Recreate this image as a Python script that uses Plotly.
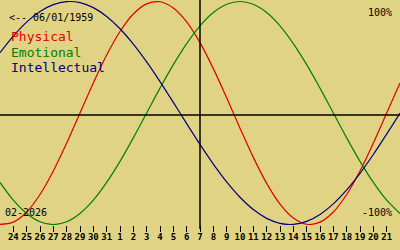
import plotly.graph_objects as go
import pandas as pd

# Days shown: Jan 23 2026 .. Feb 22 2026
dates = pd.date_range("2026-01-23", "2026-02-22", freq="D")

physical = [-99.8, -97.9, -88.8, -73.1, -52.0, -27.0, 0.0, 27.0, 52.0, 73.1, 88.8, 97.9,
            99.8, 94.2, 81.7, 63.1, 39.8, 13.6, -13.6, -39.8, -63.1, -81.7, -94.2, -99.8,
            -97.9, -88.8, -73.1, -52.0, -27.0, 0.0, 27.0]
emotional = [-62.3, -78.2, -90.1, -97.5, -100.0, -97.5, -90.1, -78.2, -62.3, -43.4, -22.3, 0.0,
             22.3, 43.4, 62.3, 78.2, 90.1, 97.5, 100.0, 97.5, 90.1, 78.2, 62.3, 43.4,
             22.3, 0.0, -22.3, -43.4, -62.3, -78.2, -90.1]
intellectual = [54.1, 69.0, 81.5, 91.0, 97.2, 99.9, 99.0, 94.5, 86.6, 75.6, 61.8, 45.8,
                28.2, 9.5, -9.5, -28.2, -45.8, -61.8, -75.6, -86.6, -94.5, -99.0, -99.9, -97.2,
                -91.0, -81.5, -69.0, -54.1, -37.2, -18.9, 0.0]

tick_dates = list(dates[1:-1])
tick_labels = [str(d.day) for d in tick_dates]
today = "2026-02-07"

BG = "#E1D384"
RED = "#DD0000"
GREEN = "#008000"
BLUE = "#000080"
MONO = "DejaVu Sans Mono"

fig = go.Figure()
for name, vals, col in [("Physical", physical, RED), ("Emotional", emotional, GREEN),
                        ("Intellectual", intellectual, BLUE)]:
    fig.add_trace(go.Scatter(x=dates, y=vals, mode="lines", name=name,
                             line=dict(color=col, width=1.2, shape="spline", smoothing=1.0),
                             hoverinfo="skip"))

H_PLOT = 225.0
def py(p):
    return (H_PLOT - p) / H_PLOT

fig.update_layout(
    width=400, height=250,
    margin=dict(l=0, r=0, t=0, b=25),
    paper_bgcolor=BG, plot_bgcolor=BG,
    showlegend=False,
    xaxis=dict(range=[dates[0], dates[-1]], tickvals=tick_dates, ticktext=tick_labels,
               ticks="outside", ticklen=6, tickwidth=1, tickcolor="black",
               ticklabelstandoff=-3,
               showgrid=False, zeroline=False, showline=False,
               tickfont=dict(family=MONO, size=9, color="black", weight="bold"),
               fixedrange=True),
    yaxis=dict(range=[-100.45, 101.35], showgrid=False, zeroline=False, showline=False,
               showticklabels=False, ticks="", fixedrange=True),
    shapes=[
        dict(type="line", xref="paper", yref="paper", x0=0, x1=1, y0=py(115), y1=py(115),
             line=dict(color="black", width=1.5)),
        dict(type="line", xref="x", yref="paper", x0=today, x1=today, y0=py(229), y1=1,
             line=dict(color="black", width=1.5)),
    ],
)

def ann(text, x, y, color="black", size=10, xanchor="left"):
    fig.add_annotation(text=text, xref="paper", yref="paper", x=x / 400.0, y=py(y),
                       xanchor=xanchor, yanchor="middle", showarrow=False,
                       font=dict(family=MONO, size=size, color=color))

ann("&lt;-- 06/01/1959", 7, 17)
ann("Physical", 9, 37, RED, 13)
ann("Emotional", 9, 52, GREEN, 13)
ann("Intellectual", 9, 67, BLUE, 13)
ann("100%", 394, 12, xanchor="right")
ann("-100%", 394, 212, xanchor="right")
ann("02-2026", 3, 212)

fig.write_html("out.html")
